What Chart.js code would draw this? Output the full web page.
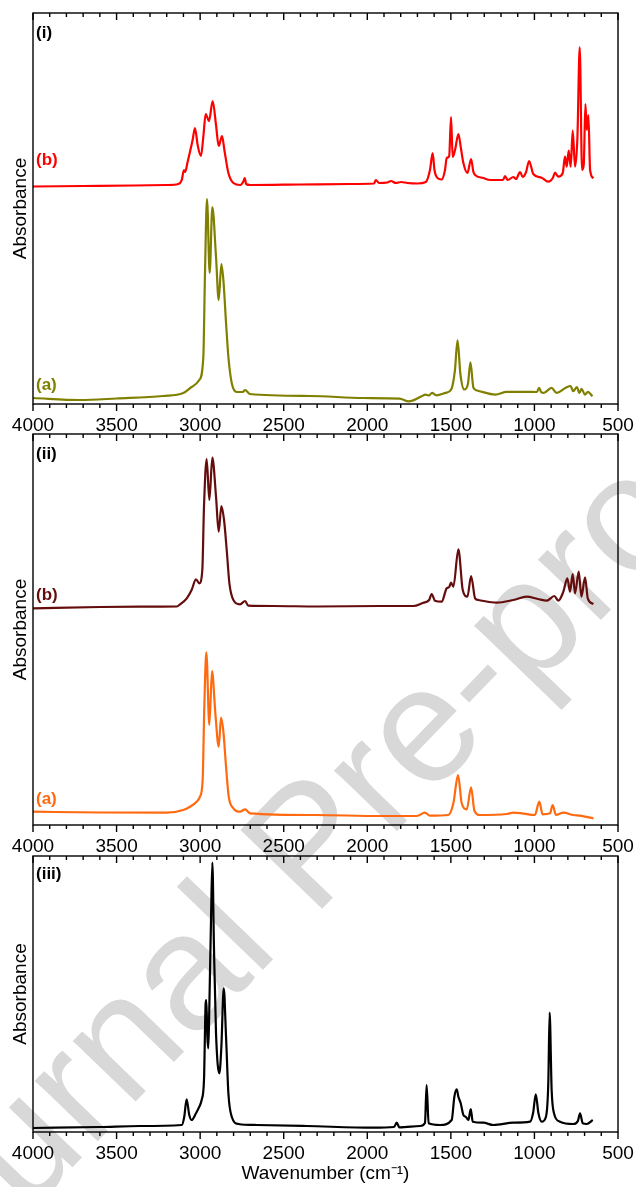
<!DOCTYPE html>
<html>
<head>
<meta charset="utf-8">
<script src="https://cdn.jsdelivr.net/npm/chart.js@4.4.1/dist/chart.umd.min.js"></script>
<style>
  html, body { margin: 0; padding: 0; background: #fff; }
  #wrap { position: relative; width: 636px; height: 1187px; overflow: hidden; }
  canvas { position: absolute; left: 0; z-index: 1; }
  #wm {
    position: absolute; left: 307px; top: 843px; z-index: 0;
    transform: translate(-50%, -50%) rotate(-46deg);
    font: 165px "Liberation Sans", Arial, sans-serif; line-height: 1;
    color: #d8d8d8; white-space: nowrap;
  }
</style>
</head>
<body>
<div id="wrap">
  <div id="wm">Journal Pre-proof</div>
  <canvas id="c1" width="636" height="434" style="top:0"></canvas>
  <canvas id="c2" width="636" height="424" style="top:430px"></canvas>
  <canvas id="c3" width="636" height="337" style="top:850px"></canvas>
</div>
<script>
/* x axis */
const X_TICKS = [4000, 3500, 3000, 2500, 2000, 1500, 1000, 500];

/* ---------- panel (i) ---------- */
const WN_I_B  = [4000,3700,3400,3200,3131,3110,3097,3090,3075,3061,3045,3031,3015,2995,2980,2967,2947,2925,2905,2889,2869,2855,2831,2801,2760,2740,2733,2725,2700,2400,2100,1960,1948,1930,1880,1858,1830,1798,1760,1700,1650,1625,1609,1598,1585,1555,1535,1525,1510,1499,1489,1475,1455,1440,1425,1401,1379,1365,1355,1306,1265,1188,1176,1160,1126,1110,1086,1070,1050,1032,1007,957,917,890,877,857,831,817,807,795,783,771,757,743,729,715,705,695,687,677,667,647];
const ABS_I_B = [2.175,2.18,2.185,2.19,2.20,2.24,2.34,2.32,2.42,2.52,2.64,2.76,2.59,2.48,2.69,2.90,2.83,3.03,2.79,2.58,2.68,2.54,2.31,2.21,2.19,2.23,2.26,2.20,2.19,2.195,2.20,2.205,2.24,2.21,2.215,2.23,2.21,2.22,2.21,2.205,2.22,2.34,2.51,2.34,2.27,2.245,2.34,2.46,2.48,2.87,2.47,2.54,2.70,2.56,2.41,2.31,2.45,2.32,2.29,2.26,2.24,2.24,2.28,2.24,2.27,2.25,2.32,2.27,2.32,2.43,2.30,2.263,2.223,2.26,2.313,2.273,2.307,2.473,2.373,2.533,2.373,2.733,2.373,2.657,3.567,2.34,2.39,3.00,2.74,2.89,2.34,2.257];

const WN_I_A  = [4000,3719,3500,3222,3101,3051,3005,2981,2971,2959,2943,2927,2905,2889,2873,2861,2845,2831,2811,2781,2745,2731,2702,2343,2024,1807,1752,1675,1653,1630,1613,1586,1531,1498,1476,1460,1443,1420,1398,1383,1365,1343,1233,1166,1056,985,972,960,945,897,868,813,784,768,746,731,718,698,680,653];
const ABS_I_A = [0.06,0.04,0.055,0.08,0.11,0.17,0.24,0.47,1.31,2.05,1.31,1.97,1.47,1.04,1.40,1.24,0.81,0.47,0.21,0.12,0.12,0.14,0.10,0.08,0.06,0.054,0.026,0.077,0.094,0.085,0.111,0.087,0.111,0.145,0.332,0.637,0.30,0.145,0.20,0.416,0.162,0.135,0.094,0.121,0.121,0.12,0.162,0.12,0.111,0.162,0.111,0.162,0.18,0.128,0.17,0.11,0.152,0.094,0.121,0.077];

/* ---------- panel (ii) ---------- */
const WN_II_B  = [4000,3600,3360,3140,3120,3080,3051,3025,3005,2987,2977,2961,2945,2927,2905,2889,2873,2857,2841,2825,2801,2761,2731,2712,2560,2300,1924,1725,1665,1630,1615,1595,1555,1525,1510,1499,1485,1455,1429,1401,1379,1355,1335,1226,1126,1046,980,926,881,857,827,803,787,771,757,735,719,697,681,647];
const ABS_II_B = [2.167,2.18,2.183,2.185,2.207,2.267,2.35,2.457,2.417,2.55,3.183,3.66,3.25,3.673,3.283,2.933,3.19,3.05,2.75,2.417,2.25,2.207,2.24,2.193,2.19,2.185,2.19,2.19,2.223,2.25,2.31,2.243,2.233,2.367,2.38,2.423,2.383,2.757,2.35,2.283,2.49,2.267,2.25,2.223,2.25,2.283,2.26,2.243,2.29,2.243,2.333,2.467,2.333,2.51,2.317,2.533,2.283,2.477,2.267,2.21];

const WN_II_A  = [4000,3600,3200,3101,3061,3021,3001,2985,2975,2963,2945,2929,2909,2889,2875,2861,2845,2829,2801,2761,2731,2702,2307,1924,1704,1655,1625,1515,1485,1457,1435,1405,1379,1359,1326,1166,1126,1076,997,971,951,907,891,871,827,767,727,647];
const ABS_II_A = [0.133,0.125,0.123,0.15,0.183,0.233,0.283,0.45,1.183,1.727,1.0,1.54,1.117,0.783,1.073,0.933,0.583,0.283,0.167,0.133,0.157,0.117,0.10,0.09,0.09,0.123,0.093,0.10,0.217,0.50,0.217,0.157,0.377,0.143,0.10,0.11,0.123,0.117,0.10,0.233,0.107,0.117,0.20,0.10,0.123,0.10,0.093,0.067];

/* ---------- panel (iii) ---------- */
const WN_III  = [4000,3600,3360,3110,3095,3081,3065,3051,3025,3005,2991,2977,2967,2963,2957,2951,2945,2935,2927,2917,2905,2885,2873,2859,2845,2831,2811,2771,2662,2362,1964,1840,1824,1808,1684,1655,1645,1633,1565,1495,1479,1465,1455,1441,1425,1410,1395,1381,1369,1306,1246,1126,1026,1008,992,976,957,931,917,909,897,883,847,767,740,727,711,687,651];
const ABS_III = [0.04,0.05,0.06,0.07,0.153,0.327,0.17,0.12,0.187,0.253,0.32,0.52,1.287,1.32,0.953,0.837,1.253,2.12,2.693,1.82,0.987,0.587,0.853,1.437,0.953,0.387,0.153,0.08,0.07,0.06,0.043,0.05,0.093,0.047,0.06,0.09,0.47,0.087,0.07,0.12,0.353,0.427,0.353,0.287,0.17,0.15,0.12,0.23,0.103,0.093,0.07,0.093,0.103,0.19,0.377,0.187,0.103,0.153,0.49,1.193,0.42,0.187,0.103,0.08,0.11,0.187,0.087,0.08,0.12];

const FONT = '"Liberation Sans", Arial, sans-serif';

/* box, inward top ticks, outward bottom ticks, panel tags */
const framePlugin = {
  id: 'frame',
  afterDatasetsDraw(chart, args, opts) {
    const { ctx, chartArea: a, scales: { x, y } } = chart;
    ctx.save();
    ctx.strokeStyle = '#000';
    ctx.lineWidth = 1.4;
    ctx.strokeRect(a.left, a.top, a.right - a.left, a.bottom - a.top);
    ctx.beginPath();
    for (let v = 500; v <= 4000; v += 100) {
      const px = x.getPixelForValue(v);
      const len = v % 500 === 0 ? 7 : 4;
      ctx.moveTo(px, a.top);    ctx.lineTo(px, a.top + len);
      ctx.moveTo(px, a.bottom); ctx.lineTo(px, a.bottom + len);
    }
    ctx.stroke();

    ctx.font = 'bold 17px ' + FONT;
    ctx.textAlign = 'left';
    ctx.textBaseline = 'middle';
    (opts.tags || []).forEach(t => {
      ctx.fillStyle = t.color;
      ctx.fillText(t.text, a.left + 3, y.getPixelForValue(t.at));
    });
    ctx.restore();
  }
};

function makeChart(id, padTop, xHeight, yMax, series, tags, showTitle) {
  new Chart(document.getElementById(id), {
    type: 'line',
    data: {
      datasets: series.map(s => ({
        data: s.wn.map((w, i) => ({ x: w, y: s.abs[i] })),
        borderColor: s.color,
        borderWidth: 2.2,
        pointRadius: 0,
        cubicInterpolationMode: 'monotone',
        fill: false
      }))
    },
    options: {
      responsive: false,
      animation: false,
      devicePixelRatio: 1,
      layout: { padding: { top: padTop, right: 18, left: 0, bottom: 0 } },
      plugins: {
        legend: { display: false },
        tooltip: { enabled: false },
        frame: { tags }
      },
      scales: {
        x: {
          type: 'linear', reverse: true, min: 500, max: 4000,
          afterBuildTicks: s => { s.ticks = X_TICKS.map(v => ({ value: v })); },
          afterFit: s => { s.height = xHeight; s.paddingLeft = 0; s.paddingRight = 0; },
          grid: { display: false, drawTicks: false },
          border: { display: false },
          ticks: { padding: 10, color: '#000', font: { family: FONT, size: 19 },
                   maxRotation: 0, autoSkip: false, callback: v => String(v) },
          title: { display: showTitle, text: 'Wavenumber (cm⁻¹)', color: '#000',
                   font: { family: FONT, size: 19 }, padding: { top: 0, bottom: 2 } }
        },
        y: {
          min: 0, max: yMax,
          afterFit: s => { s.width = 33; },
          ticks: { display: false },
          grid: { display: false, drawTicks: false },
          border: { display: false },
          title: { display: true, text: 'Absorbance', color: '#000',
                   font: { family: FONT, size: 19 }, padding: { top: 9, bottom: 0 } }
        }
      }
    },
    plugins: [framePlugin]
  });
}

makeChart('c1', 13, 30, 3.91, [
  { wn: WN_I_B, abs: ABS_I_B, color: '#ff0000' },
  { wn: WN_I_A, abs: ABS_I_A, color: '#808000' }
], [
  { text: '(i)', color: '#000', at: 3.71 },
  { text: '(b)', color: '#ff0000', at: 2.44 },
  { text: '(a)', color: '#808000', at: 0.19 }
], false);

makeChart('c2', 4, 29, 3.91, [
  { wn: WN_II_B, abs: ABS_II_B, color: '#650d0d' },
  { wn: WN_II_A, abs: ABS_II_A, color: '#ff6a10' }
], [
  { text: '(ii)', color: '#000', at: 3.705 },
  { text: '(b)', color: '#650d0d', at: 2.295 },
  { text: '(a)', color: '#ff6a10', at: 0.255 }
], false);

makeChart('c3', 6, 55, 2.76, [
  { wn: WN_III, abs: ABS_III, color: '#000000' }
], [
  { text: '(iii)', color: '#000', at: 2.575 }
], true);
</script>
</body>
</html>
